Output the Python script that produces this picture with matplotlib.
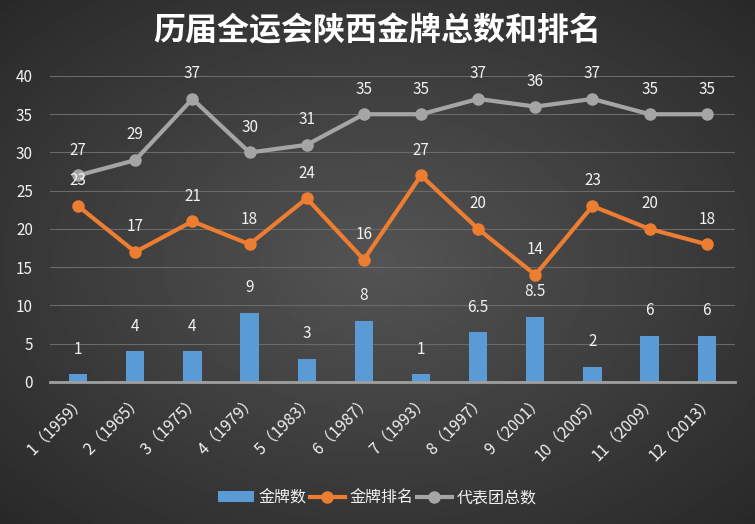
import matplotlib.pyplot as plt
import numpy as np

plt.rcParams['font.family'] = ['Noto Sans CJK SC', 'DejaVu Sans']

labels = ['1（1959）', '2（1965）', '3（1975）', '4（1979）', '5（1983）', '6（1987）',
          '7（1993）', '8（1997）', '9（2001）', '10（2005）', '11（2009）', '12（2013）']
gold = [1, 4, 4, 9, 3, 8, 1, 6.5, 8.5, 2, 6, 6]
rank = [23, 17, 21, 18, 24, 16, 27, 20, 14, 23, 20, 18]
team = [27, 29, 37, 30, 31, 35, 35, 37, 36, 37, 35, 35]

fig = plt.figure(figsize=(7.55, 5.24), dpi=100)

# radial gradient background
bg = fig.add_axes([0, 0, 1, 1], zorder=-10)
yy, xx = np.mgrid[-1:1:300j, -1:1:400j]
r = np.sqrt(xx**2 + yy**2)
bg.imshow(0.33 - 0.12 * r, cmap='gray', vmin=0, vmax=1, aspect='auto', extent=[0, 1, 0, 1])
bg.axis('off')

ax = fig.add_axes([0.0656, 0.271, 0.9084, 0.584])
ax.set_facecolor('none')
x = np.arange(len(labels))

ax.bar(x, gold, width=0.32, color='#5B9BD5', zorder=2, label='金牌数')
ax.plot(x, rank, '-o', color='#ED7D31', lw=3, ms=8, zorder=3, label='金牌排名')
ax.plot(x, team, '-o', color='#A5A5A5', lw=3, ms=8, zorder=3, label='代表团总数')

for i in range(len(x)):
    ax.annotate(f'{gold[i]:g}', (x[i], gold[i]), xytext=(0, 12), textcoords='offset points',
                ha='center', va='bottom', color='#f2f2f2', fontsize=11)
    ax.annotate(str(rank[i]), (x[i], rank[i]), xytext=(0, 12), textcoords='offset points',
                ha='center', va='bottom', color='#f2f2f2', fontsize=11)
    ax.annotate(str(team[i]), (x[i], team[i]), xytext=(0, 12), textcoords='offset points',
                ha='center', va='bottom', color='#f2f2f2', fontsize=11)

ax.set_xlim(-0.5, len(x) - 0.5)
ax.set_ylim(0, 40)
ax.set_yticks(range(0, 41, 5))
ax.set_xticks(x)
ax.set_xticklabels(labels, rotation=45, ha='right', rotation_mode='anchor', color='#f2f2f2', fontsize=11.5)
ax.tick_params(axis='y', colors='#f2f2f2', labelsize=11, length=0, pad=12)
ax.tick_params(axis='x', length=0, pad=8)
ax.grid(axis='y', color='#6a6a6a', lw=0.8, zorder=0)
for s in ['top', 'right', 'left']:
    ax.spines[s].set_visible(False)
ax.spines['bottom'].set_color('#a0a0a0')
ax.spines['bottom'].set_linewidth(2)

fig.text(0.5, 0.94, '历届全运会陕西金牌总数和排名', ha='center', va='center',
         color='white', fontsize=23, fontweight='bold')

handles, names = ax.get_legend_handles_labels()
order = [2, 0, 1]
fig.legend([handles[k] for k in order], [names[k] for k in order],
           loc='center', bbox_to_anchor=(0.5, 0.05), ncol=3, frameon=False,
           labelcolor='#f2f2f2', fontsize=11.5, handlelength=2.2, columnspacing=0.2, handletextpad=0.3)

fig.savefig('out.png', dpi=100)
